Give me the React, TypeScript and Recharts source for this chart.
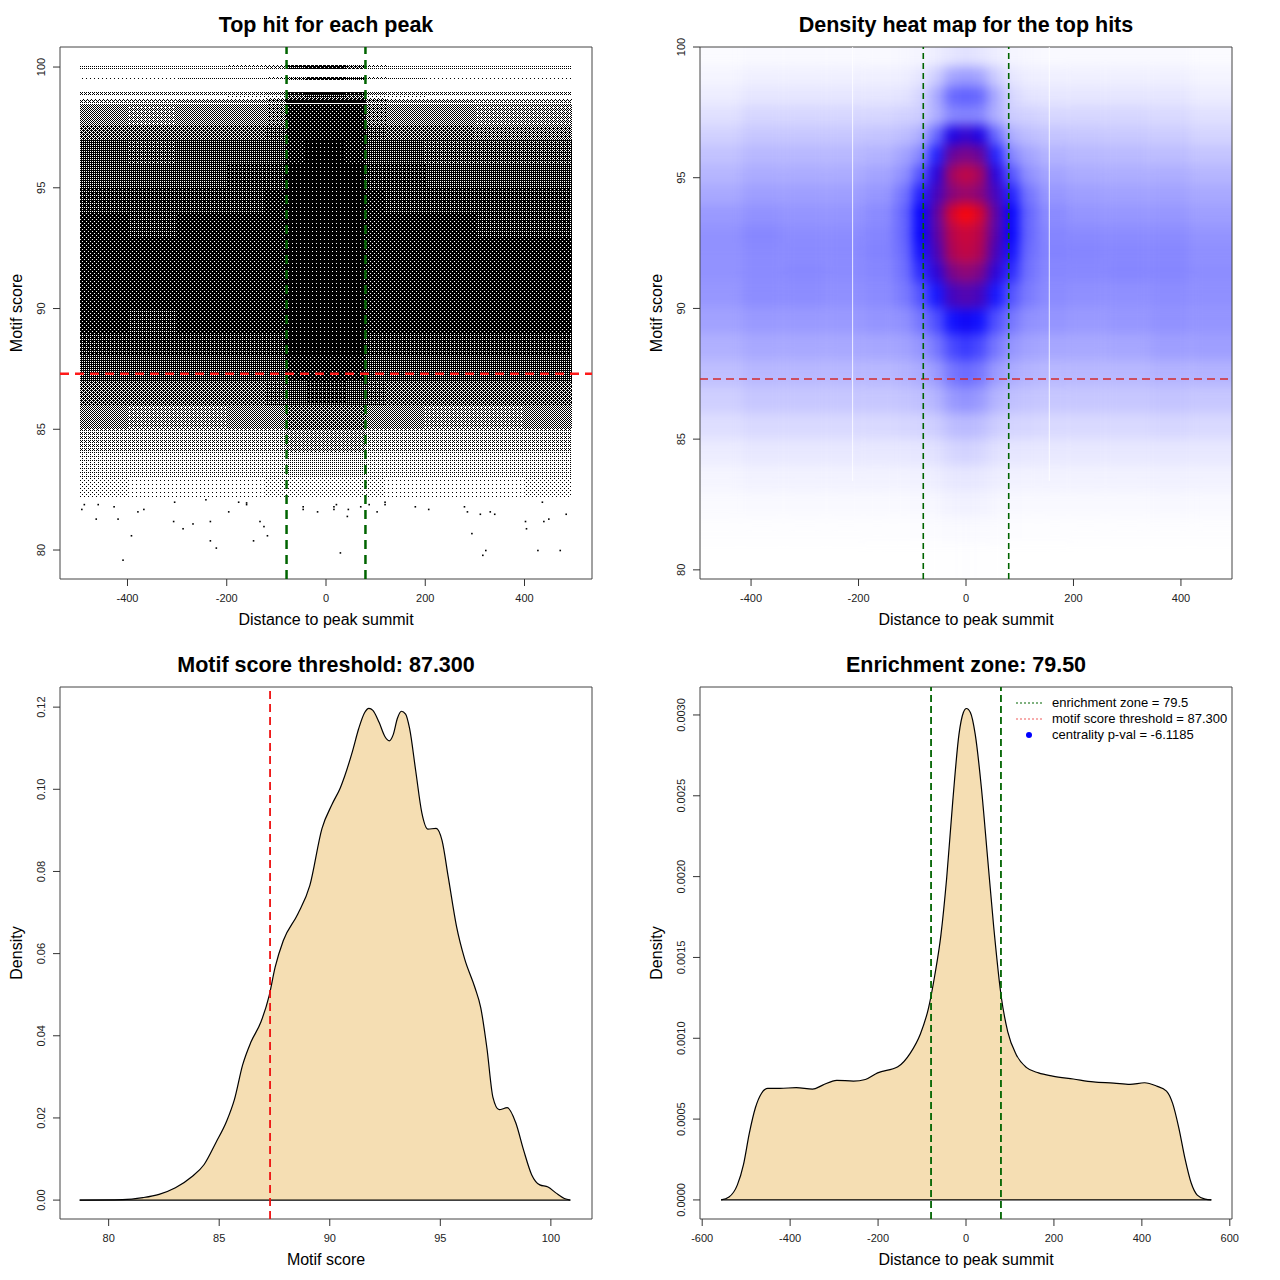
import React from 'react'
import {
  ScatterChart, ComposedChart, Scatter, Area, XAxis, YAxis, ReferenceLine, ReferenceArea,
} from 'recharts'

const FONT = '"Liberation Sans", Arial, Helvetica, sans-serif'

const ENRICH_ZONE = 79.5
const SCORE_THRESHOLD = 87.3
const CENTRALITY = -6.1185

// ---- top hit for each peak (scatter, summarised as dotted cells + sparse tail points) ----
const HIT_X_DOMAIN = [-536, 536]
const HIT_Y_DOMAIN = [78.8, 100.83]
const HIT_X_TICKS = [-400, -200, 0, 200, 400]
const SCORE_TICKS = [80, 85, 90, 95, 100]

const hitColEdges = [-496, -400, -300, -200, -120, -80, -40, 0, 40, 80, 120, 200, 300, 400, 496]
const hitRowLo = [99.93, 99.45, 98.83, 98.66, 98.52, 97.6, 97, 96, 95, 94, 93, 92, 91, 90, 89, 88, 87, 86, 85, 84, 83, 82.2]
const hitRowHi = [100.07, 99.58, 98.97, 98.83, 98.66, 98.45, 97.6, 97, 96, 95, 94, 93, 92, 91, 90, 89, 88, 87, 86, 85, 84, 83]
// share of the cell covered by dots
const hitShade = [
  [0.25, 0.25, 0.25, 0.3, 0.4, 0.8, 0.9, 0.9, 0.6, 0.3, 0.25, 0.25, 0.25, 0.25],
  [0.2, 0.2, 0.22, 0.22, 0.3, 0.7, 0.85, 0.85, 0.75, 0.3, 0.22, 0.2, 0.2, 0.2],
  [0.3, 0.3, 0.3, 0.32, 0.45, 0.9, 0.92, 0.92, 0.9, 0.45, 0.32, 0.3, 0.3, 0.3],
  [0, 0, 0, 0.05, 0.1, 0.6, 0.7, 0.7, 0.6, 0.1, 0.05, 0, 0, 0],
  [0.4, 0.4, 0.42, 0.45, 0.55, 0.92, 0.92, 0.92, 0.92, 0.55, 0.45, 0.42, 0.4, 0.4],
  [0.48, 0.45, 0.48, 0.5, 0.58, 0.86, 0.88, 0.88, 0.86, 0.58, 0.5, 0.48, 0.45, 0.42],
  [0.62, 0.6, 0.62, 0.64, 0.7, 0.88, 0.9, 0.9, 0.88, 0.7, 0.64, 0.6, 0.58, 0.58],
  [0.72, 0.7, 0.72, 0.74, 0.78, 0.9, 0.92, 0.92, 0.9, 0.78, 0.74, 0.71, 0.7, 0.7],
  [0.78, 0.76, 0.78, 0.8, 0.83, 0.92, 0.93, 0.93, 0.92, 0.83, 0.8, 0.77, 0.76, 0.76],
  [0.82, 0.81, 0.82, 0.83, 0.86, 0.93, 0.94, 0.94, 0.93, 0.86, 0.83, 0.82, 0.81, 0.81],
  [0.85, 0.84, 0.85, 0.86, 0.88, 0.94, 0.94, 0.94, 0.94, 0.88, 0.86, 0.85, 0.84, 0.84],
  [0.87, 0.86, 0.87, 0.88, 0.9, 0.94, 0.94, 0.94, 0.94, 0.9, 0.88, 0.87, 0.86, 0.86],
  [0.88, 0.87, 0.88, 0.88, 0.9, 0.94, 0.94, 0.94, 0.94, 0.9, 0.88, 0.88, 0.88, 0.88],
  [0.87, 0.87, 0.87, 0.88, 0.9, 0.94, 0.94, 0.94, 0.94, 0.9, 0.88, 0.87, 0.87, 0.87],
  [0.85, 0.84, 0.85, 0.86, 0.88, 0.93, 0.94, 0.94, 0.93, 0.88, 0.86, 0.85, 0.85, 0.85],
  [0.81, 0.8, 0.8, 0.81, 0.83, 0.91, 0.92, 0.92, 0.91, 0.83, 0.81, 0.8, 0.8, 0.81],
  [0.75, 0.73, 0.73, 0.74, 0.77, 0.86, 0.88, 0.88, 0.86, 0.77, 0.74, 0.73, 0.73, 0.75],
  [0.63, 0.61, 0.61, 0.63, 0.66, 0.76, 0.8, 0.8, 0.76, 0.66, 0.63, 0.61, 0.61, 0.63],
  [0.48, 0.46, 0.46, 0.48, 0.5, 0.6, 0.64, 0.64, 0.6, 0.5, 0.48, 0.46, 0.46, 0.48],
  [0.33, 0.31, 0.31, 0.32, 0.34, 0.43, 0.46, 0.46, 0.43, 0.34, 0.32, 0.31, 0.31, 0.33],
  [0.2, 0.18, 0.17, 0.18, 0.2, 0.26, 0.28, 0.28, 0.26, 0.2, 0.18, 0.17, 0.18, 0.2],
  [0.1, 0.09, 0.08, 0.09, 0.1, 0.13, 0.14, 0.14, 0.13, 0.1, 0.09, 0.08, 0.09, 0.1],
]
const tailHitX = [
  -487, -459, -492, -427, -367, -379, -305, -176, -160, -160, -196, -242, -463, -419, -307,
  -268, -233, -133, -125, -288, -392, -118, -233, -146, -221, -409, -46, -46, -17,
  16, 16, 21, 45, 43, 70, 87, 103, 119, 119, 180, 207, 279, 285, 311, 331, 340, 436,
  484, 402, 439, 449, 404, 294, 29, 322, 316, 427, 472,
]
const tailHitY = [
  81.88, 81.88, 81.68, 81.79, 81.68, 81.58, 81.98, 81.98, 81.95, 81.88, 81.58, 82.08, 81.28, 81.28, 81.18,
  81.08, 81.18, 81.18, 80.97, 80.88, 80.59, 80.59, 80.38, 80.38, 80.08, 79.58, 81.79, 81.68, 81.58,
  81.79, 81.68, 81.88, 81.68, 81.39, 81.79, 81.88, 81.58, 81.98, 81.88, 81.79, 81.68, 81.79, 81.58, 81.48, 81.58, 81.48, 81.98,
  81.48, 81.18, 81.18, 81.28, 80.88, 80.68, 79.88, 79.98, 79.78, 79.98, 79.98,
]

// ---- density heat map ----
const HEAT_X_DOMAIN = [-495, 495]
const HEAT_Y_DOMAIN = [79.65, 100]
const heatColEdges = [-540, -420, -340, -260, -190, -135, -100, -70, -40, -12, 12, 40, 70, 100, 135, 190, 260, 340, 420, 540]
const heatRowLo = [99.25, 98.5, 97.75, 97, 96.25, 95.5, 94.75, 94, 93.25, 92.5, 91.75, 91, 90, 89, 88, 87, 86, 85, 84, 83, 82, 81, 78]
const heatRowHi = [102, 99.25, 98.5, 97.75, 97, 96.25, 95.5, 94.75, 94, 93.25, 92.5, 91.75, 91, 90, 89, 88, 87, 86, 85, 84, 83, 82, 81]
// relative density, 0 = white, 0.5 = blue, 1 = red
const heatLevel = [
  [0.008, 0.012, 0.012, 0.012, 0.012, 0.015, 0.02, 0.035, 0.05, 0.06, 0.05, 0.035, 0.02, 0.015, 0.012, 0.012, 0.012, 0.012, 0.008],
  [0.02, 0.03, 0.03, 0.03, 0.03, 0.033, 0.05, 0.1, 0.18, 0.2, 0.18, 0.1, 0.05, 0.033, 0.03, 0.03, 0.03, 0.03, 0.02],
  [0.035, 0.05, 0.05, 0.05, 0.05, 0.055, 0.08, 0.17, 0.3, 0.32, 0.3, 0.17, 0.08, 0.055, 0.05, 0.05, 0.05, 0.05, 0.035],
  [0.06, 0.08, 0.08, 0.08, 0.08, 0.09, 0.1, 0.16, 0.24, 0.25, 0.24, 0.16, 0.1, 0.09, 0.08, 0.08, 0.08, 0.075, 0.06],
  [0.09, 0.11, 0.11, 0.11, 0.115, 0.13, 0.16, 0.3, 0.55, 0.6, 0.55, 0.3, 0.16, 0.13, 0.115, 0.11, 0.105, 0.1, 0.085],
  [0.12, 0.14, 0.14, 0.14, 0.15, 0.18, 0.24, 0.44, 0.7, 0.74, 0.7, 0.44, 0.24, 0.18, 0.15, 0.14, 0.135, 0.13, 0.115],
  [0.145, 0.165, 0.165, 0.165, 0.18, 0.22, 0.34, 0.57, 0.82, 0.88, 0.82, 0.57, 0.34, 0.22, 0.18, 0.165, 0.16, 0.16, 0.145],
  [0.17, 0.19, 0.19, 0.19, 0.205, 0.27, 0.44, 0.63, 0.76, 0.8, 0.76, 0.63, 0.44, 0.27, 0.205, 0.19, 0.185, 0.185, 0.17],
  [0.2, 0.215, 0.21, 0.21, 0.23, 0.3, 0.5, 0.68, 0.92, 1.0, 0.92, 0.68, 0.5, 0.3, 0.23, 0.21, 0.205, 0.205, 0.19],
  [0.215, 0.235, 0.225, 0.225, 0.24, 0.3, 0.5, 0.67, 0.86, 0.9, 0.86, 0.67, 0.5, 0.3, 0.24, 0.23, 0.225, 0.225, 0.21],
  [0.215, 0.23, 0.23, 0.23, 0.245, 0.29, 0.47, 0.64, 0.84, 0.88, 0.84, 0.64, 0.47, 0.29, 0.245, 0.24, 0.235, 0.235, 0.22],
  [0.215, 0.23, 0.235, 0.23, 0.24, 0.28, 0.42, 0.58, 0.74, 0.78, 0.74, 0.58, 0.42, 0.28, 0.24, 0.235, 0.24, 0.24, 0.225],
  [0.205, 0.225, 0.225, 0.22, 0.23, 0.26, 0.34, 0.46, 0.63, 0.66, 0.63, 0.46, 0.34, 0.26, 0.23, 0.22, 0.22, 0.225, 0.22],
  [0.185, 0.2, 0.2, 0.2, 0.21, 0.22, 0.27, 0.35, 0.47, 0.52, 0.47, 0.35, 0.27, 0.22, 0.21, 0.2, 0.205, 0.215, 0.21],
  [0.155, 0.17, 0.17, 0.17, 0.175, 0.185, 0.21, 0.27, 0.36, 0.4, 0.36, 0.27, 0.21, 0.185, 0.175, 0.17, 0.175, 0.19, 0.19],
  [0.125, 0.14, 0.14, 0.14, 0.14, 0.15, 0.165, 0.2, 0.27, 0.3, 0.27, 0.2, 0.165, 0.15, 0.14, 0.14, 0.14, 0.15, 0.15],
  [0.095, 0.11, 0.11, 0.11, 0.11, 0.115, 0.125, 0.15, 0.2, 0.22, 0.2, 0.15, 0.125, 0.115, 0.11, 0.11, 0.11, 0.115, 0.11],
  [0.065, 0.075, 0.075, 0.075, 0.075, 0.08, 0.085, 0.1, 0.13, 0.14, 0.13, 0.1, 0.085, 0.08, 0.075, 0.075, 0.075, 0.08, 0.075],
  [0.038, 0.045, 0.045, 0.045, 0.045, 0.047, 0.05, 0.06, 0.08, 0.09, 0.08, 0.06, 0.05, 0.047, 0.045, 0.045, 0.045, 0.048, 0.045],
  [0.02, 0.025, 0.025, 0.025, 0.025, 0.026, 0.028, 0.035, 0.045, 0.05, 0.045, 0.035, 0.028, 0.026, 0.025, 0.025, 0.025, 0.027, 0.025],
  [0.01, 0.012, 0.012, 0.012, 0.012, 0.012, 0.014, 0.018, 0.025, 0.03, 0.025, 0.018, 0.014, 0.012, 0.012, 0.012, 0.012, 0.013, 0.012],
  [0.003, 0.004, 0.004, 0.004, 0.004, 0.004, 0.005, 0.007, 0.01, 0.012, 0.01, 0.007, 0.005, 0.004, 0.004, 0.004, 0.004, 0.004, 0.004],
  [0, 0, 0, 0, 0, 0, 0, 0.001, 0.002, 0.003, 0.002, 0.001, 0, 0, 0, 0, 0, 0, 0],
]
const heatSeamX = [-211, 155]
const heatSeamFrom = 83.4

// ---- motif score density ----
const SCORE_X_DOMAIN = [77.8, 101.86]
const SCORE_Y_DOMAIN = [-0.0046, 0.1249]
const SCORE_DENS_TICKS = [0, 0.02, 0.04, 0.06, 0.08, 0.1, 0.12]
const scoreDensX = [
  78.69, 80.63, 81.55, 82.28, 83.02, 83.76, 84.31, 84.86, 85.32, 85.69, 86.06, 86.43, 86.89, 87.26, 87.53,
  87.9, 88.55, 89.1, 89.65, 90.11, 90.48, 91.03, 91.31, 91.58, 91.77, 91.95, 92.23, 92.5, 92.69, 92.87,
  93.06, 93.24, 93.43, 93.61, 93.89, 94.16, 94.44, 94.81, 95.08, 95.36, 95.73, 96.1, 96.56, 96.83, 97.11,
  97.38, 97.66, 98.03, 98.4, 98.77, 99.13, 99.5, 99.87, 100.24, 100.61, 100.88,
]
const scoreDensY = [
  0, 0.0001, 0.0006, 0.0014, 0.003, 0.0057, 0.0086, 0.0141, 0.019, 0.0245, 0.0329, 0.0384, 0.0434, 0.0498, 0.0567,
  0.0632, 0.0696, 0.0766, 0.0905, 0.0964, 0.1004, 0.1093, 0.1148, 0.1187, 0.1197, 0.1192, 0.1163, 0.1128, 0.1118, 0.1133,
  0.1173, 0.119, 0.1183, 0.1148, 0.1044, 0.0944, 0.0903, 0.0905, 0.0875, 0.0786, 0.0667, 0.0587, 0.0518, 0.0468, 0.0369,
  0.025, 0.022, 0.0225, 0.019, 0.0121, 0.0062, 0.0037, 0.0032, 0.0017, 0.0004, 0,
]

// ---- distance density ----
const DIST_X_DOMAIN = [-605, 605]
const DIST_Y_DOMAIN = [-0.000118, 0.003173]
const DIST_X_TICKS = [-600, -400, -200, 0, 200, 400, 600]
const DIST_DENS_TICKS = [0, 0.0005, 0.001, 0.0015, 0.002, 0.0025, 0.003]
const distDensX = [
  -557, -539, -520, -506, -493, -479, -465, -451, -423, -386, -349, -326, -294, -256, -229, -201, -155, -127,
  -104, -85, -71, -57, -44, -30, -16, -6, 1, 10, 21, 35, 49, 63, 80, 95, 114, 137, 165, 197, 244, 290, 336,
  373, 406, 433, 456, 470, 484, 498, 512, 526, 544, 558,
]
const distDensY = [
  0, 0.000018, 0.000093, 0.00022, 0.00041, 0.00057, 0.00066, 0.00069, 0.00069, 0.000695, 0.000685, 0.00071,
  0.00074, 0.000735, 0.000745, 0.000786, 0.000824, 0.000907, 0.001025, 0.00119, 0.00139, 0.00164, 0.00199,
  0.00247, 0.00288, 0.003015, 0.00304, 0.003015, 0.00288, 0.00255, 0.00212, 0.00169, 0.00126, 0.00104, 0.0009,
  0.00082, 0.000786, 0.000766, 0.000748, 0.00073, 0.000723, 0.000715, 0.000725, 0.000705, 0.000673, 0.000597,
  0.000446, 0.000257, 0.000106, 0.00003, 0.000005, 0,
]

const tailHits = tailHitX.map((x, i) => ({ x, y: tailHitY[i] }))
const scoreDensity = scoreDensX.map((x, i) => ({ x, y: scoreDensY[i] }))
const distDensity = distDensX.map((x, i) => ({ x, y: distDensY[i] }))

const PANEL = 640
const MARGIN = { top: 47, right: 48, left: 0, bottom: 0 }
const PLOT = 532
const BLUR_PAD = 24
const GREEN = '#006400'

// 4x4 ordered dither, used to draw the dot texture of the scatter cells
const DITHER = [
  [0, 8, 2, 10],
  [12, 4, 14, 6],
  [3, 11, 1, 9],
  [15, 7, 13, 5],
]

function DotPatterns() {
  const levels = Array.from({ length: 15 }, (_, i) => i + 1)
  return (
    <svg width={0} height={0} style={{ position: 'absolute' }}>
      <defs>
        {levels.map((k) => (
          <pattern key={k} id={`dots-${k}`} width={4} height={4} patternUnits="userSpaceOnUse">
            {DITHER.flatMap((row, y) =>
              row.map((t, x) => (t < k ? <rect key={`${x}-${y}`} x={x} y={y} width={1} height={1} fill="#000" /> : null))
            )}
          </pattern>
        ))}
      </defs>
    </svg>
  )
}

function dotFill(share: number) {
  const k = Math.min(15, Math.round(share * 16))
  return `url(#dots-${k})`
}

function heatColor(d: number) {
  if (d <= 0.5) {
    const v = Math.round(255 * (1 - d / 0.5))
    return `rgb(${v},${v},255)`
  }
  const t = (d - 0.5) / 0.5
  return `rgb(${Math.round(255 * t)},0,${Math.round(255 * (1 - t))})`
}

const xTick = (props: any) => (
  <text x={props.x} y={props.y} dy="0.71em" textAnchor="middle" fontSize={11} fill="#222" fontFamily={FONT}>
    {props.payload.value}
  </text>
)

const yTick = (digits: number) => (props: any) => {
  const { x, y, payload } = props
  const label = digits > 0 ? Number(payload.value).toFixed(digits) : String(payload.value)
  return (
    <text x={x} y={y} transform={`rotate(-90 ${x} ${y})`} textAnchor="middle" fontSize={11} fill="#222" fontFamily={FONT}>
      {label}
    </text>
  )
}

function axes(xDomain: number[], xTicks: number[], yDomain: number[], yTicks: number[], digits: number) {
  return [
    <XAxis key="x" type="number" dataKey="x" domain={xDomain} ticks={xTicks} interval={0} allowDataOverflow
      height={61} axisLine={false} tickSize={7} tickMargin={8} tickLine={{ stroke: '#333' }} tick={xTick} />,
    <YAxis key="y" type="number" dataKey="y" domain={yDomain} ticks={yTicks} interval={0} allowDataOverflow
      width={60} axisLine={false} tickSize={7} tickMargin={8} tickLine={{ stroke: '#333' }} tick={yTick(digits)} />,
  ]
}

function box(xDomain: number[], yDomain: number[]) {
  return (
    <ReferenceArea x1={xDomain[0]} x2={xDomain[1]} y1={yDomain[0]} y2={yDomain[1]}
      fill="none" fillOpacity={0} stroke="#444" strokeWidth={1} ifOverflow="visible" />
  )
}

function Frame({ left, top, title, xLabel, yLabel, children }: any) {
  return (
    <div style={{ position: 'absolute', left, top, width: PANEL, height: PANEL, fontFamily: FONT, color: '#000' }}>
      {children}
      <div style={{ position: 'absolute', left: 60, top: 11, width: PLOT, textAlign: 'center', fontWeight: 'bold', fontSize: 21.5, lineHeight: '28px' }}>
        {title}
      </div>
      <div style={{ position: 'absolute', left: 60, top: 610, width: PLOT, textAlign: 'center', fontSize: 16, lineHeight: '20px' }}>
        {xLabel}
      </div>
      <div style={{ position: 'absolute', left: 17 - PLOT / 2, top: 303, width: PLOT, height: 20, textAlign: 'center', fontSize: 16, lineHeight: '20px', transform: 'rotate(-90deg)' }}>
        {yLabel}
      </div>
    </div>
  )
}

function TopHits() {
  const cells: React.ReactNode[] = []
  hitShade.forEach((row, r) =>
    row.forEach((s, c) => {
      if (Math.round(s * 16) <= 0) return
      cells.push(
        <ReferenceArea key={`h${r}-${c}`} x1={hitColEdges[c]} x2={hitColEdges[c + 1]} y1={hitRowLo[r]} y2={hitRowHi[r]}
          fill={dotFill(s)} fillOpacity={1} stroke="none" ifOverflow="visible" shapeRendering="crispEdges" />
      )
    })
  )
  return (
    <ScatterChart width={PANEL} height={PANEL} margin={MARGIN}>
      {axes(HIT_X_DOMAIN, HIT_X_TICKS, HIT_Y_DOMAIN, SCORE_TICKS, 0)}
      {cells}
      <Scatter data={tailHits} fill="#000" isAnimationActive={false}
        shape={(p: any) => <rect x={p.cx - 0.8} y={p.cy - 0.8} width={1.6} height={1.6} fill="#000" />} />
      <ReferenceLine y={SCORE_THRESHOLD} stroke="#ff1a1a" strokeWidth={2.5} strokeDasharray="9 6" />
      <ReferenceLine x={-ENRICH_ZONE} stroke={GREEN} strokeWidth={2.5} strokeDasharray="9 6" />
      <ReferenceLine x={ENRICH_ZONE} stroke={GREEN} strokeWidth={2.5} strokeDasharray="9 6" />
      {box(HIT_X_DOMAIN, HIT_Y_DOMAIN)}
    </ScatterChart>
  )
}

function HeatMap() {
  const cells: React.ReactNode[] = []
  heatLevel.forEach((row, r) =>
    row.forEach((d, c) => {
      cells.push(
        <ReferenceArea key={`q${r}-${c}`} x1={heatColEdges[c]} x2={heatColEdges[c + 1]} y1={heatRowLo[r]} y2={heatRowHi[r]}
          fill={heatColor(d)} fillOpacity={1} stroke="none" ifOverflow="visible" />
      )
    })
  )
  const size = PLOT + 2 * BLUR_PAD
  return (
    <>
      <div style={{ position: 'absolute', left: 60, top: 47, width: PLOT, height: PLOT, overflow: 'hidden' }}>
        <div style={{ position: 'absolute', left: -BLUR_PAD, top: -BLUR_PAD, filter: 'blur(6px)' }}>
          <ScatterChart width={size} height={size} margin={{ top: BLUR_PAD, right: BLUR_PAD, bottom: BLUR_PAD, left: BLUR_PAD }}>
            <XAxis hide type="number" dataKey="x" domain={HEAT_X_DOMAIN} allowDataOverflow />
            <YAxis hide type="number" dataKey="y" domain={HEAT_Y_DOMAIN} allowDataOverflow />
            {cells}
          </ScatterChart>
        </div>
      </div>
      <div style={{ position: 'absolute', left: 0, top: 0 }}>
        <ScatterChart width={PANEL} height={PANEL} margin={MARGIN}>
          {axes(HEAT_X_DOMAIN, HIT_X_TICKS, HEAT_Y_DOMAIN, SCORE_TICKS, 0)}
          {heatSeamX.map((x) => (
            <ReferenceLine key={x} segment={[{ x, y: heatSeamFrom }, { x, y: HEAT_Y_DOMAIN[1] }]} stroke="#fff" strokeOpacity={0.8} strokeWidth={1} />
          ))}
          <ReferenceLine y={SCORE_THRESHOLD} stroke="#d42a2a" strokeWidth={1.4} strokeDasharray="8 5" />
          <ReferenceLine x={-ENRICH_ZONE} stroke={GREEN} strokeWidth={1.6} strokeDasharray="6 4" />
          <ReferenceLine x={ENRICH_ZONE} stroke={GREEN} strokeWidth={1.6} strokeDasharray="6 4" />
          {box(HEAT_X_DOMAIN, HEAT_Y_DOMAIN)}
        </ScatterChart>
      </div>
    </>
  )
}

function ScoreDensity() {
  const last = scoreDensity[scoreDensity.length - 1]
  return (
    <ComposedChart width={PANEL} height={PANEL} margin={MARGIN} data={scoreDensity}>
      {axes(SCORE_X_DOMAIN, SCORE_TICKS, SCORE_Y_DOMAIN, SCORE_DENS_TICKS, 2)}
      <Area type="monotone" dataKey="y" stroke="#000" strokeWidth={1.2} fill="#f5deb3" fillOpacity={1}
        baseValue={0} dot={false} activeDot={false} isAnimationActive={false} />
      <ReferenceLine segment={[{ x: scoreDensity[0].x, y: 0 }, { x: last.x, y: 0 }]} stroke="#000" strokeWidth={1.2} />
      <ReferenceLine x={SCORE_THRESHOLD} stroke="#ee1111" strokeWidth={1.8} strokeDasharray="8 5" />
      {box(SCORE_X_DOMAIN, SCORE_Y_DOMAIN)}
    </ComposedChart>
  )
}

function DistDensity() {
  const last = distDensity[distDensity.length - 1]
  return (
    <ComposedChart width={PANEL} height={PANEL} margin={MARGIN} data={distDensity}>
      {axes(DIST_X_DOMAIN, DIST_X_TICKS, DIST_Y_DOMAIN, DIST_DENS_TICKS, 4)}
      <Area type="monotone" dataKey="y" stroke="#000" strokeWidth={1.2} fill="#f5deb3" fillOpacity={1}
        baseValue={0} dot={false} activeDot={false} isAnimationActive={false} />
      <ReferenceLine segment={[{ x: distDensity[0].x, y: 0 }, { x: last.x, y: 0 }]} stroke="#000" strokeWidth={1.2} />
      <ReferenceLine x={-ENRICH_ZONE} stroke={GREEN} strokeWidth={1.8} strokeDasharray="7 4" />
      <ReferenceLine x={ENRICH_ZONE} stroke={GREEN} strokeWidth={1.8} strokeDasharray="7 4" />
      {box(DIST_X_DOMAIN, DIST_Y_DOMAIN)}
    </ComposedChart>
  )
}

function DistLegend() {
  const rows = [
    { label: `enrichment zone = ${ENRICH_ZONE}`, kind: 'line', color: GREEN },
    { label: `motif score threshold = ${SCORE_THRESHOLD.toFixed(3)}`, kind: 'line', color: '#f05a5a' },
    { label: `centrality p-val = ${CENTRALITY}`, kind: 'dot', color: '#0000ff' },
  ]
  return (
    <div style={{ position: 'absolute', left: 376, top: 55, fontSize: 13, lineHeight: '16px', fontFamily: FONT }}>
      {rows.map((r) => (
        <div key={r.label} style={{ display: 'flex', alignItems: 'center', height: 16 }}>
          <svg width={36} height={16} style={{ flex: 'none' }}>
            {r.kind === 'line'
              ? <line x1={0} x2={26} y1={8} y2={8} stroke={r.color} strokeWidth={1.2} strokeDasharray="2 2" />
              : <circle cx={13} cy={8} r={3} fill={r.color} />}
          </svg>
          <span>{r.label}</span>
        </div>
      ))}
    </div>
  )
}

export default function App() {
  return (
    <div style={{ position: 'absolute', left: 0, top: 0, width: 1280, height: 1280, background: '#fff' }}>
      <DotPatterns />
      <Frame left={0} top={0} title="Top hit for each peak" xLabel="Distance to peak summit" yLabel="Motif score">
        <TopHits />
      </Frame>
      <Frame left={640} top={0} title="Density heat map for the top hits" xLabel="Distance to peak summit" yLabel="Motif score">
        <HeatMap />
      </Frame>
      <Frame left={0} top={640} title={`Motif score threshold: ${SCORE_THRESHOLD.toFixed(3)}`} xLabel="Motif score" yLabel="Density">
        <ScoreDensity />
      </Frame>
      <Frame left={640} top={640} title={`Enrichment zone: ${ENRICH_ZONE.toFixed(2)}`} xLabel="Distance to peak summit" yLabel="Density">
        <DistDensity />
        <DistLegend />
      </Frame>
    </div>
  )
}
